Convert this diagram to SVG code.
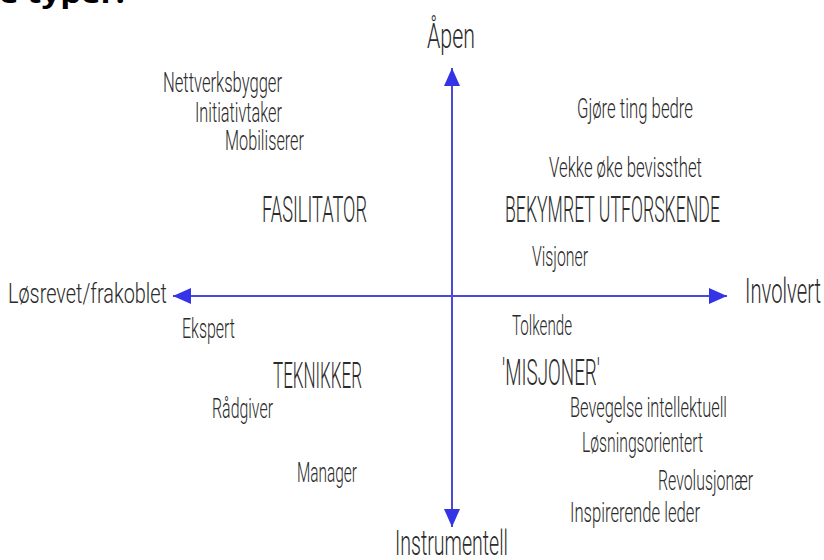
<svg xmlns="http://www.w3.org/2000/svg" width="824" height="560" viewBox="0 0 824 560">
  <style>
    .t { font-family: Roboto, "Liberation Sans", sans-serif; font-weight: 300; fill: #2b2b2b; }
    .s { font-size: 27px; }
    .m { font-size: 36px; }
    .a { font-size: 35px; }
    .title { font-family: "Open Sans", "Liberation Sans", sans-serif; font-weight: 700; font-size: 27px; fill: #000; }
    .axis { stroke: #4a4ad6; stroke-width: 2; fill: none; }
  </style>
  <defs>
    <marker id="arr" viewBox="0 0 18 16" refX="18" refY="8" markerWidth="18" markerHeight="16" markerUnits="userSpaceOnUse" orient="auto-start-reverse">
      <path d="M0,0 L18,8 L0,16 Z" fill="#3434e6"/>
    </marker>
  </defs>
  <rect width="824" height="560" fill="#ffffff"/>

  <text class="title" x="-1" y="3" textLength="126" lengthAdjust="spacingAndGlyphs">e typer:</text>

  <g id="connectors">
    <line class="axis" x1="452" y1="68" x2="452" y2="527" marker-start="url(#arr)" marker-end="url(#arr)"/>
    <line class="axis" x1="173" y1="296" x2="727" y2="296" marker-start="url(#arr)" marker-end="url(#arr)"/>
  </g>

  <g id="axis-aapen"><text class="t a" x="427" y="48" textLength="48" lengthAdjust="spacingAndGlyphs">Åpen</text></g>
  <g id="axis-losrevet"><text class="t s" x="8" y="303" textLength="159" lengthAdjust="spacingAndGlyphs">Løsrevet/frakoblet</text></g>
  <g id="axis-involvert"><text class="t a" x="745" y="303" textLength="76" lengthAdjust="spacingAndGlyphs">Involvert</text></g>
  <g id="axis-instrumentell"><text class="t a" x="395" y="555" textLength="113" lengthAdjust="spacingAndGlyphs">Instrumentell</text></g>

  <g id="nettverksbygger"><text class="t s" x="163" y="92" textLength="119" lengthAdjust="spacingAndGlyphs">Nettverksbygger</text></g>
  <g id="initiativtaker"><text class="t s" x="195" y="122" textLength="87" lengthAdjust="spacingAndGlyphs">Initiativtaker</text></g>
  <g id="mobiliserer"><text class="t s" x="225" y="150" textLength="79" lengthAdjust="spacingAndGlyphs">Mobiliserer</text></g>
  <g id="fasilitator"><text class="t m" x="262" y="222" textLength="105" lengthAdjust="spacingAndGlyphs">FASILITATOR</text></g>

  <g id="gjore-ting-bedre"><text class="t s" x="577" y="118" textLength="116" lengthAdjust="spacingAndGlyphs">Gjøre ting bedre</text></g>
  <g id="vekke"><text class="t s" x="549" y="177" textLength="153" lengthAdjust="spacingAndGlyphs">Vekke øke bevissthet</text></g>
  <g id="bekymret"><text class="t m" x="505" y="222" textLength="215" lengthAdjust="spacingAndGlyphs">BEKYMRET UTFORSKENDE</text></g>
  <g id="visjoner"><text class="t s" x="532" y="266" textLength="56" lengthAdjust="spacingAndGlyphs">Visjoner</text></g>

  <g id="ekspert"><text class="t s" x="182" y="338" textLength="53" lengthAdjust="spacingAndGlyphs">Ekspert</text></g>
  <g id="teknikker"><text class="t m" x="273" y="388" textLength="89" lengthAdjust="spacingAndGlyphs">TEKNIKKER</text></g>
  <g id="radgiver"><text class="t s" x="212" y="418" textLength="61" lengthAdjust="spacingAndGlyphs">Rådgiver</text></g>
  <g id="manager"><text class="t s" x="297" y="482" textLength="60" lengthAdjust="spacingAndGlyphs">Manager</text></g>

  <g id="tolkende"><text class="t s" x="512" y="335" textLength="60" lengthAdjust="spacingAndGlyphs">Tolkende</text></g>
  <g id="misjoner"><text class="t m" x="502" y="385" textLength="98" lengthAdjust="spacingAndGlyphs">'MISJONER'</text></g>
  <g id="bevegelse"><text class="t s" x="570" y="417" textLength="157" lengthAdjust="spacingAndGlyphs">Bevegelse intellektuell</text></g>
  <g id="losningsorientert"><text class="t s" x="582" y="452" textLength="121" lengthAdjust="spacingAndGlyphs">Løsningsorientert</text></g>
  <g id="revolusjonaer"><text class="t s" x="658" y="490" textLength="95" lengthAdjust="spacingAndGlyphs">Revolusjonær</text></g>
  <g id="inspirerende"><text class="t s" x="570" y="522" textLength="130" lengthAdjust="spacingAndGlyphs">Inspirerende leder</text></g>
</svg>
